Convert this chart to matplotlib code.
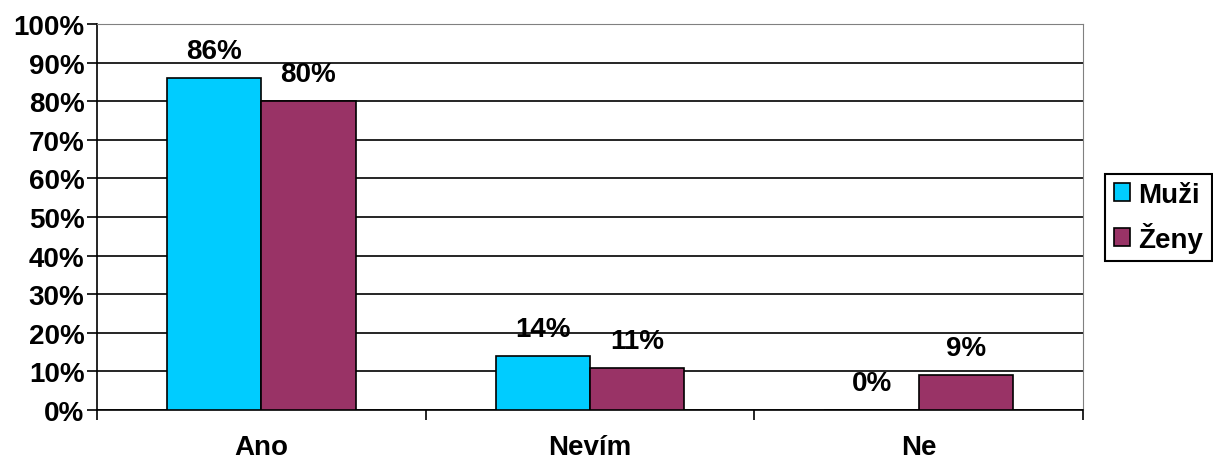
import matplotlib
matplotlib.use("Agg")
import matplotlib.pyplot as plt
import numpy as np

categories = ["Ano", "Nevím", "Ne"]
series_names = ["Muži", "Ženy"]
muzi = [86, 14, 0]
zeny = [80, 11, 9]
y_ticks = list(range(0, 101, 10))

colors = ["#00CCFF", "#993366"]

plt.rcParams["font.family"] = ["Liberation Sans", "DejaVu Sans"]
plt.rcParams["font.weight"] = "bold"

FS = 20

fig = plt.figure(figsize=(12.13, 4.64), dpi=100)
ax = fig.add_axes([97 / 1213, 53 / 464, (1083 - 97) / 1213, (411 - 25) / 464])

x = np.arange(len(categories))
w = 0.287
bars = []
for i, (vals, col, name) in enumerate(zip([muzi, zeny], colors, series_names)):
    pos = x + (i - 0.5) * w
    b = ax.bar(pos, vals, width=w, color=col, edgecolor="black", linewidth=1.2,
               label=name, zorder=3)
    bars.append(b)
    for px, v in zip(pos, vals):
        ax.annotate(f"{v}%", (px, v), xytext=(0, 10), textcoords="offset points",
                    ha="center", va="bottom", fontsize=FS, fontweight="bold")

ax.set_xlim(-0.5, len(categories) - 0.5)
ax.set_ylim(0, 100)
ax.set_yticks(y_ticks)
ax.set_yticklabels([f"{t}%" for t in y_ticks], fontsize=FS, fontweight="bold")
ax.yaxis.grid(True, color="black", linewidth=1.2, zorder=0)
ax.set_axisbelow(True)

ax.set_xticks(x)
ax.set_xticklabels(categories, fontsize=FS, fontweight="bold")
ax.tick_params(axis="x", length=0, pad=17)
ax.set_xticks(np.arange(-0.5, len(categories)), minor=True)
ax.tick_params(axis="x", which="minor", length=7, width=1.2, direction="out")
ax.tick_params(axis="y", length=7, width=1.2, direction="out", pad=2)

ax.spines["left"].set_color("black")
ax.spines["left"].set_linewidth(1.2)
ax.spines["bottom"].set_color("black")
ax.spines["bottom"].set_linewidth(1.2)
ax.spines["top"].set_color("#808080")
ax.spines["right"].set_color("#808080")

leg = fig.legend(handles=bars, labels=series_names, loc="center",
                 bbox_to_anchor=(1158.5 / 1213, 1 - 218.5 / 464),
                 prop={"weight": "bold", "size": FS},
                 frameon=True, fancybox=False, edgecolor="black", framealpha=1,
                 handlelength=0.6, handleheight=0.6, handletextpad=0.3,
                 borderpad=0.3, labelspacing=0.5, borderaxespad=0)
leg.get_frame().set_linewidth(1.5)

fig.savefig("out.png", dpi=100)
